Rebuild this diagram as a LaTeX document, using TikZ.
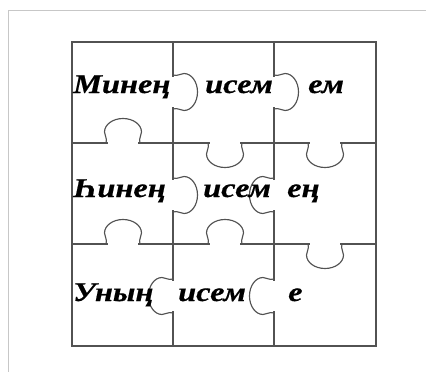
\documentclass[tikz,border=0pt]{standalone}
\usepackage{fontspec}
\setmainfont{Liberation Serif}
\newfontfamily\pzfont[FakeStretch=1.2, FakeBold=0.6]{Liberation Serif}
\newcommand\pzknob[3]{%
  \begin{scope}[shift={(#1,#2)}, rotate=#3]
    \draw[white, line width=2.8pt] (1.6,0) -- (32.4,0);
    \draw[grid] (0,0) .. controls (1.5,5) and (-1.5,7) .. (-1.5,11)
      arc[start angle=180, end angle=0, x radius=18.5, y radius=13.5]
      .. controls (35.5,7) and (32.5,5) .. (34,0);
  \end{scope}}
\begin{document}
\begin{tikzpicture}[x=1pt,y=1pt,
  grid/.style={draw=black!68, line width=1.15pt},
  word/.style={font=\pzfont\fontsize{27}{30}\selectfont\bfseries\itshape, anchor=base west, inner sep=0pt}]
\useasboundingbox (0,0) rectangle (426,-372);
\draw[black!22, line width=0.8pt] (8,-372) -- (8,-10) -- (426,-10);
% grid
\draw[grid] (72,-42) rectangle (376,-346);
\draw[grid] (173,-42) -- (173,-346);
\draw[grid] (274,-42) -- (274,-346);
\draw[grid] (72,-143) -- (376,-143);
\draw[grid] (72,-244) -- (376,-244);
% knobs
\pzknob{173}{-75}{-90}
\pzknob{274}{-75}{-90}
\pzknob{173}{-178}{-90}
\pzknob{274}{-212}{90}
\pzknob{173}{-313}{90}
\pzknob{274}{-313}{90}
\pzknob{106}{-143}{0}
\pzknob{242}{-143}{180}
\pzknob{342}{-143}{180}
\pzknob{106}{-244}{0}
\pzknob{208}{-244}{0}
\pzknob{342}{-244}{180}
% words
\node[word] (w11) at (73,-93) {Минең};
\node[word] (w12) at (205,-93) {исем};
\node[word] (w13) at (308,-93) {ем};
\node[word] (w21) at (73,-197) {Һинең};
\node[word] (w22) at (203,-197) {исем};
\node[word] (w23) at (287,-197) {ең};
\node[word] (w31) at (73,-301) {Уның};
\node[word] (w32) at (178,-301) {исем};
\node[word] (w33) at (288,-301) {е};
\end{tikzpicture}
\end{document}
